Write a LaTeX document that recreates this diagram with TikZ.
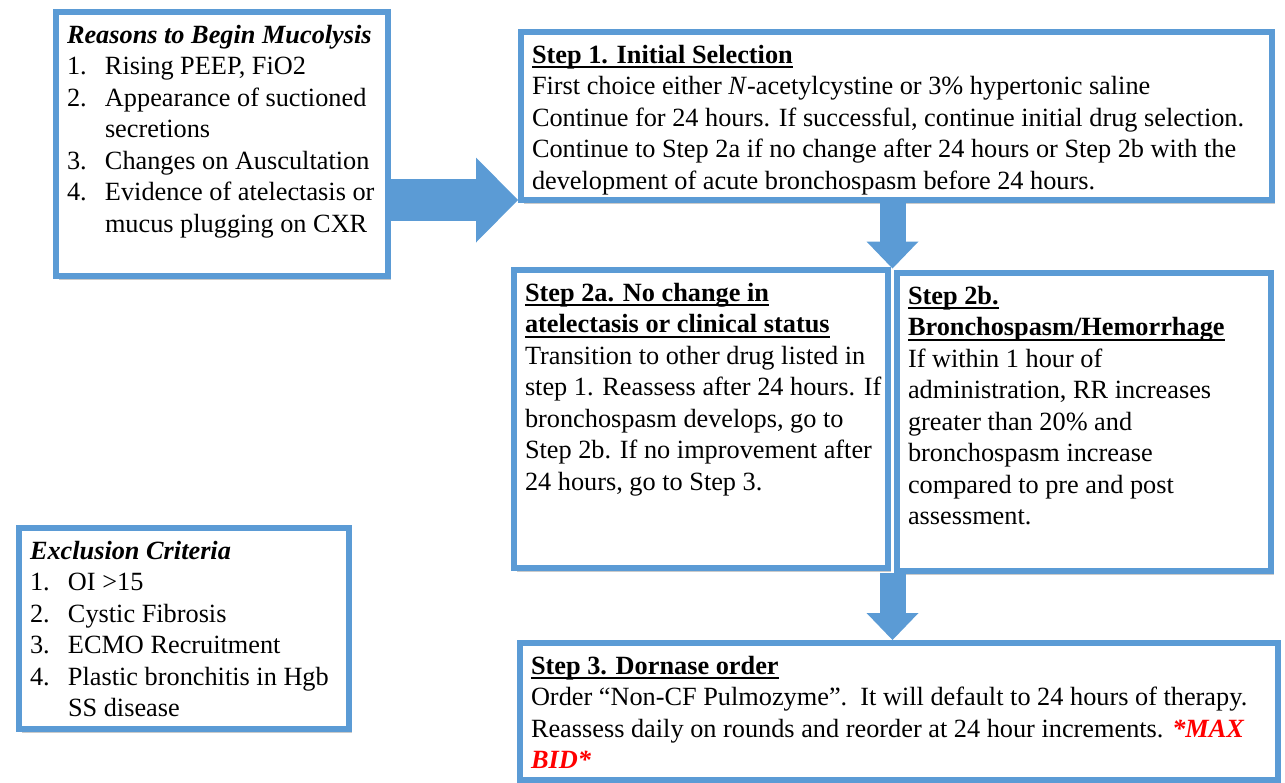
\documentclass[tikz,border=0pt]{standalone}
\usepackage{fontspec}
\setmainfont{Liberation Serif}
\usetikzlibrary{arrows.meta,shadows,calc}

\definecolor{panelblue}{RGB}{91,155,213}

\newcommand{\steptitle}[1]{\setbox0\hbox{\bfseries #1}\rlap{\rule[-5pt]{\wd0}{1.6pt}}\box0}
\newcommand{\itemno}[1]{\makebox[38pt][l]{#1}}
\newcommand{\boxtext}[3]{\begin{minipage}[t][#2pt][t]{#1pt}\begin{tabular}{@{}l@{}}#3\end{tabular}\end{minipage}}

\begin{document}
\begin{tikzpicture}[x=1pt, y=-1pt,
    panel/.style={draw=panelblue, line width=6pt, fill=white, anchor=north west,
      inner xsep=11pt, inner ysep=9pt, outer sep=0pt,
      font=\fontsize{26.3}{31.5}\selectfont,
      drop shadow={shadow xshift=3pt, shadow yshift=-4pt, opacity=.35, fill=black!60}},
    bigarrow/.style={draw=panelblue, line width=42pt,
      -{Triangle[length=42pt, width=85pt, line width=0pt]}, shorten <=3pt, shorten >=3pt},
    downarrow/.style={draw=panelblue, line width=26pt,
      -{Triangle[length=27pt, width=52pt, line width=0pt]}, shorten <=3pt, shorten >=3pt}]

  \useasboundingbox (0,0) rectangle (1285,782);

  % left column
  \node[panel] (reasons) at (56,12) {\boxtext{310}{246}{
    \textbf{\textit{Reasons to Begin Mucolysis}}\\
    \itemno{1.}Rising PEEP, FiO2\\
    \itemno{2.}Appearance of suctioned\\
    \itemno{}secretions\\
    \itemno{3.}Changes on Auscultation\\
    \itemno{4.}Evidence of atelectasis or\\
    \itemno{}mucus plugging on CXR}};

  \node[panel] (exclusion) at (19,528) {\boxtext{308}{183}{
    \textbf{\textit{Exclusion Criteria}}\\
    \itemno{1.}OI >15\\
    \itemno{2.}Cystic Fibrosis\\
    \itemno{3.}ECMO Recruitment\\
    \itemno{4.}Plastic bronchitis in Hgb\\
    \itemno{}SS disease}};

  % steps
  \node[panel] (step-1) at (521,32) {\boxtext{729}{150}{
    \steptitle{Step 1. Initial Selection}\\
    First choice either \textit{N}-acetylcystine or 3\% hypertonic saline\\
    Continue for 24 hours. If successful, continue initial drug selection.\\
    Continue to Step 2a if no change after 24 hours or Step 2b with the\\
    development of acute bronchospasm before 24 hours.}};

  \node[panel] (step-2a) at (514,270) {\boxtext{352}{280}{
    \steptitle{Step 2a. No change in}\\
    \steptitle{atelectasis or clinical status}\\
    Transition to other drug listed in\\
    step 1. Reassess after 24 hours. If\\
    bronchospasm develops, go to\\
    Step 2b. If no improvement after\\
    24 hours, go to Step 3.}};

  \node[panel] (step-2b) at (897,273) {\boxtext{352}{280}{
    \steptitle{Step 2b.}\\
    \steptitle{Bronchospasm/Hemorrhage}\\
    If within 1 hour of\\
    administration, RR increases\\
    greater than 20\% and\\
    bronchospasm increase\\
    compared to pre and post\\
    assessment.}};

  \node[panel] (step-3) at (520,643) {\boxtext{736}{119}{
    \steptitle{Step 3. Dornase order}\\
    Order “Non-CF Pulmozyme”.\ \ It will default to 24 hours of therapy.\\
    Reassess daily on rounds and reorder at 24 hour increments. \textcolor{red}{\textbf{\textit{*MAX}}}\\
    \textcolor{red}{\textbf{\textit{BID*}}}}};

  % arrows
  \coordinate (top-mid) at ($(step-2a.north east)!.5!(step-2b.north west)$);
  \coordinate (bot-mid) at ($(step-2a.south east)!.5!(step-2b.south west)$);

  \draw[bigarrow] (reasons.east |- step-1.south west) -- (step-1.south west);
  \draw[downarrow] (step-1.south -| top-mid) -- (top-mid);
  \draw[downarrow] (bot-mid) -- (bot-mid |- step-3.north);

\end{tikzpicture}
\end{document}
